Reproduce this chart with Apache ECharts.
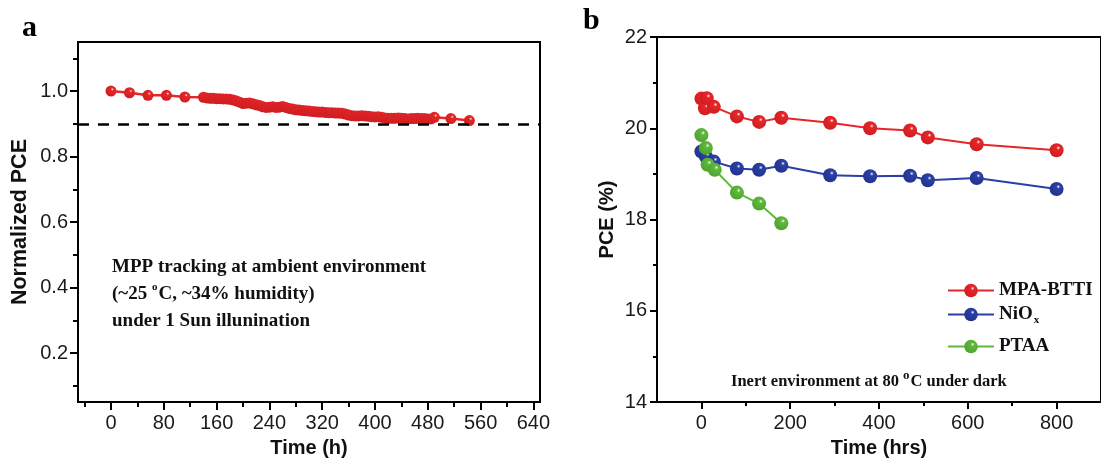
<!DOCTYPE html>
<html>
<head>
<meta charset="utf-8">
<script src="https://cdn.jsdelivr.net/npm/echarts@6/dist/echarts.min.js"></script>
<style>
html, body { margin: 0; padding: 0; background: #fff; }
#chart { width: 1101px; height: 463px; }
</style>
</head>
<body>
<div id="chart"></div>
<script>
// panel a: MPP tracking, normalized PCE
var timeA = [0, 28, 56, 84, 112, 140, 145, 150, 155, 160, 165, 170, 175, 180, 185, 190, 195, 200,
	205, 210, 215, 220, 225, 230, 235, 240, 245, 250, 255, 260, 265, 270, 275, 280, 285, 290, 295,
	300, 305, 310, 315, 320, 325, 330, 335, 340, 345, 350, 355, 360, 365, 370, 375, 380, 385, 390,
	395, 400, 405, 410, 415, 420, 425, 430, 435, 440, 445, 450, 455, 460, 465, 470, 475, 480, 485,
	490, 515, 543];
var pceA = [1.000, 0.995, 0.987, 0.987, 0.982, 0.981, 0.979, 0.978, 0.978, 0.977, 0.977, 0.976, 0.976,
	0.975, 0.973, 0.970, 0.966, 0.962, 0.963, 0.964, 0.961, 0.958, 0.956, 0.952, 0.950, 0.951, 0.952,
	0.950, 0.951, 0.953, 0.950, 0.947, 0.945, 0.943, 0.942, 0.941, 0.940, 0.939, 0.938, 0.937, 0.936,
	0.936, 0.935, 0.934, 0.934, 0.933, 0.933, 0.932, 0.930, 0.927, 0.925, 0.924, 0.924, 0.925, 0.924,
	0.923, 0.922, 0.921, 0.922, 0.920, 0.918, 0.917, 0.917, 0.917, 0.918, 0.917, 0.916, 0.915, 0.916,
	0.916, 0.917, 0.916, 0.916, 0.915, 0.915, 0.920, 0.916, 0.910];
var refLineA = 0.9;

// panel b: thermal stability at 80 oC
var timeMPA = [0, 8, 12, 28, 80, 130, 180, 290, 380, 470, 510, 620, 800];
var pceMPA = [20.65, 20.44, 20.66, 20.47, 20.26, 20.14, 20.23, 20.12, 20.00, 19.95, 19.80, 19.65, 19.52];
var timeNiO = [0, 10, 28, 80, 130, 180, 290, 380, 470, 510, 620, 800];
var pceNiO = [19.49, 19.38, 19.27, 19.12, 19.09, 19.18, 18.97, 18.95, 18.96, 18.86, 18.91, 18.67];
var timePTAA = [0, 10, 14, 30, 80, 130, 180];
var pcePTAA = [19.85, 19.57, 19.20, 19.09, 18.59, 18.35, 17.92];

// ticks
var xTicksA = [0, 80, 160, 240, 320, 400, 480, 560, 640];
var xMinorA = [-40, 40, 120, 200, 280, 360, 440, 520, 600];
var yTicksA = [0.2, 0.4, 0.6, 0.8, 1.0];
var yMinorA = [0.1, 0.3, 0.5, 0.7, 0.9, 1.1];
var xTicksB = [0, 200, 400, 600, 800];
var xMinorB = [100, 300, 500, 700];

function pairs(xs, ys) {
	var out = [];
	for (var i = 0; i < xs.length; i++) {
		out.push([xs[i], ys[i]]);
	}
	return out;
}

function ball(base, dark) {
	return new echarts.graphic.RadialGradient(0.62, 0.34, 0.68, [
		{offset: 0, color: '#ffffff'},
		{offset: 0.2, color: base},
		{offset: 1, color: dark}
	]);
}

var sans = '"Liberation Sans", Arial, sans-serif';
var serif = '"Liberation Serif", "Times New Roman", serif';

var tickLabel = {fontFamily: sans, fontSize: 20, color: '#1a1a1a'};
var nameStyle = {fontFamily: sans, fontSize: 20, fontWeight: 'bold', color: '#111'};
var axisLine = {show: true, onZero: false, lineStyle: {color: '#000', width: 2}};

var dom = document.getElementById('chart');
var myChart = echarts.init(dom, null, {renderer: 'canvas'});

var red = '#e5262a', blue = '#2b3fa6', green = '#5fb83c';

var option = {
	backgroundColor: '#fff',
	animation: false,
	grid: [
		{left: 78, right: 561, top: 42, bottom: 56, show: true, borderColor: '#000', borderWidth: 2},
		{left: 657, right: -8, top: 37, bottom: 57, show: true, borderColor: '#000', borderWidth: 2}
	],
	xAxis: [
		{
			gridIndex: 0, type: 'value', min: -50, max: 650,
			name: 'Time (h)', nameLocation: 'middle', nameGap: 34, nameTextStyle: nameStyle,
			axisLine: axisLine,
			axisTick: {show: true, inside: false, length: 8, lineStyle: {width: 2, color: '#000'}, customValues: xTicksA},
			axisLabel: {margin: 11, customValues: xTicksA, textStyle: tickLabel},
			splitLine: {show: false}
		},
		{
			gridIndex: 0, type: 'value', min: -50, max: 650, position: 'bottom',
			axisLine: {show: false, onZero: false},
			axisTick: {show: true, inside: false, length: 5, lineStyle: {width: 2, color: '#000'}, customValues: xMinorA},
			axisLabel: {show: false},
			splitLine: {show: false}
		},
		{
			gridIndex: 1, type: 'value', min: -100, max: 900,
			name: 'Time (hrs)', nameLocation: 'middle', nameGap: 34, nameTextStyle: nameStyle,
			axisLine: axisLine,
			axisTick: {show: true, inside: false, length: 7, lineStyle: {width: 2, color: '#000'}, customValues: xTicksB},
			axisLabel: {margin: 11, customValues: xTicksB, textStyle: tickLabel},
			splitLine: {show: false}
		},
		{
			gridIndex: 1, type: 'value', min: -100, max: 900, position: 'bottom',
			axisLine: {show: false, onZero: false},
			axisTick: {show: true, inside: false, length: 4, lineStyle: {width: 2, color: '#000'}, customValues: xMinorB},
			axisLabel: {show: false},
			splitLine: {show: false}
		}
	],
	yAxis: [
		{
			gridIndex: 0, type: 'value', min: 0.05, max: 1.15,
			name: 'Normalized PCE', nameLocation: 'middle', nameGap: 47,
			nameTextStyle: {fontFamily: sans, fontSize: 21.5, fontWeight: 'bold', color: '#111'},
			axisLine: axisLine,
			axisTick: {show: true, inside: false, length: 8, lineStyle: {width: 2, color: '#000'}, customValues: yTicksA},
			axisLabel: {margin: 10, customValues: yTicksA, textStyle: tickLabel,
				formatter: function(v) { return v.toFixed(1); }},
			splitLine: {show: false}
		},
		{
			gridIndex: 0, type: 'value', min: 0.05, max: 1.15, position: 'left',
			axisLine: {show: false, onZero: false},
			axisTick: {show: true, inside: false, length: 5, lineStyle: {width: 2, color: '#000'}, customValues: yMinorA},
			axisLabel: {show: false},
			splitLine: {show: false}
		},
		{
			gridIndex: 1, type: 'value', min: 14, max: 22, interval: 2,
			name: 'PCE (%)', nameLocation: 'middle', nameGap: 40, nameTextStyle: nameStyle,
			axisLine: axisLine,
			axisTick: {show: true, inside: false, length: 7, lineStyle: {width: 2, color: '#000'}},
			minorTick: {show: true, splitNumber: 2, length: 4, lineStyle: {width: 2, color: '#000'}},
			axisLabel: {margin: 10, textStyle: tickLabel},
			splitLine: {show: false}
		}
	],
	legend: [
		{data: ['MPA-BTTI'], left: 942, top: 276},
		{data: ['NiOx'], left: 942, top: 300,
			formatter: function() { return '{m|NiO}{s|x}'; }},
		{data: ['PTAA'], left: 942, top: 332}
	].map(function(l) {
		l.itemWidth = 46;
		l.itemHeight = 17;
		l.orient = 'vertical';
		l.textStyle = {fontFamily: serif, fontSize: 19, fontWeight: 'bold', color: '#111',
			rich: {
				m: {fontFamily: serif, fontSize: 19, fontWeight: 'bold', color: '#111'},
				s: {fontFamily: serif, fontSize: 11, fontWeight: 'bold', color: '#111', padding: [12, 0, 0, 1]}
			}};
		return l;
	}),
	series: [
		{
			name: 'MPP', type: 'line', xAxisIndex: 0, yAxisIndex: 0,
			data: pairs(timeA, pceA),
			symbol: 'circle', symbolSize: 11,
			lineStyle: {color: red, width: 2.5},
			itemStyle: {color: ball(red, '#d01d20')},
			markLine: {
				silent: true, symbol: 'none', label: {show: false},
				lineStyle: {color: '#000', width: 2.5, type: [11, 9]},
				data: [{yAxis: refLineA}]
			},
			z: 3
		},
		{
			name: 'MPA-BTTI', type: 'line', xAxisIndex: 2, yAxisIndex: 2,
			data: pairs(timeMPA, pceMPA),
			symbol: 'circle', symbolSize: 14,
			lineStyle: {color: red, width: 2},
			itemStyle: {color: ball(red, '#d01d20')}
		},
		{
			name: 'NiOx', type: 'line', xAxisIndex: 2, yAxisIndex: 2,
			data: pairs(timeNiO, pceNiO),
			symbol: 'circle', symbolSize: 14,
			lineStyle: {color: blue, width: 2},
			itemStyle: {color: ball(blue, '#22338c')}
		},
		{
			name: 'PTAA', type: 'line', xAxisIndex: 2, yAxisIndex: 2,
			data: pairs(timePTAA, pcePTAA),
			symbol: 'circle', symbolSize: 14,
			lineStyle: {color: green, width: 2},
			itemStyle: {color: ball(green, '#4ea32e')}
		}
	],
	graphic: [
		{type: 'text', left: 22, top: 13, style: {text: 'a', font: 'bold 30px ' + serif, fill: '#000'}},
		{type: 'text', left: 583, top: 6, style: {text: 'b', font: 'bold 30px ' + serif, fill: '#000'}},
		{
			type: 'text', left: 112, top: 258,
			style: {
				text: '{t|MPP tracking at ambient environment}\n{t|(~25 }{u|o}{t|C, ~34% humidity)}\n{t|under 1 Sun illunination}',
				rich: {
					t: {fontFamily: serif, fontSize: 19, fontWeight: 'bold', fill: '#111', lineHeight: 27},
					u: {fontFamily: serif, fontSize: 11, fontWeight: 'bold', fill: '#111', padding: [0, 1, 14, 0]}
				}
			}
		},
		{
			type: 'text', left: 731, top: 369,
			style: {
				text: '{t|Inert environment at 80 }{u|o}{t|C under dark}',
				rich: {
					t: {fontFamily: serif, fontSize: 16.5, fontWeight: 'bold', fill: '#111'},
					u: {fontFamily: serif, fontSize: 13, fontWeight: 'bold', fill: '#111', padding: [0, 1, 12, 0]}
				}
			}
		}
	]
};

if (option && typeof option === "object") {
	myChart.setOption(option, true);
}
window.addEventListener('resize', function() {
	myChart.resize();
});
</script>
</body>
</html>
